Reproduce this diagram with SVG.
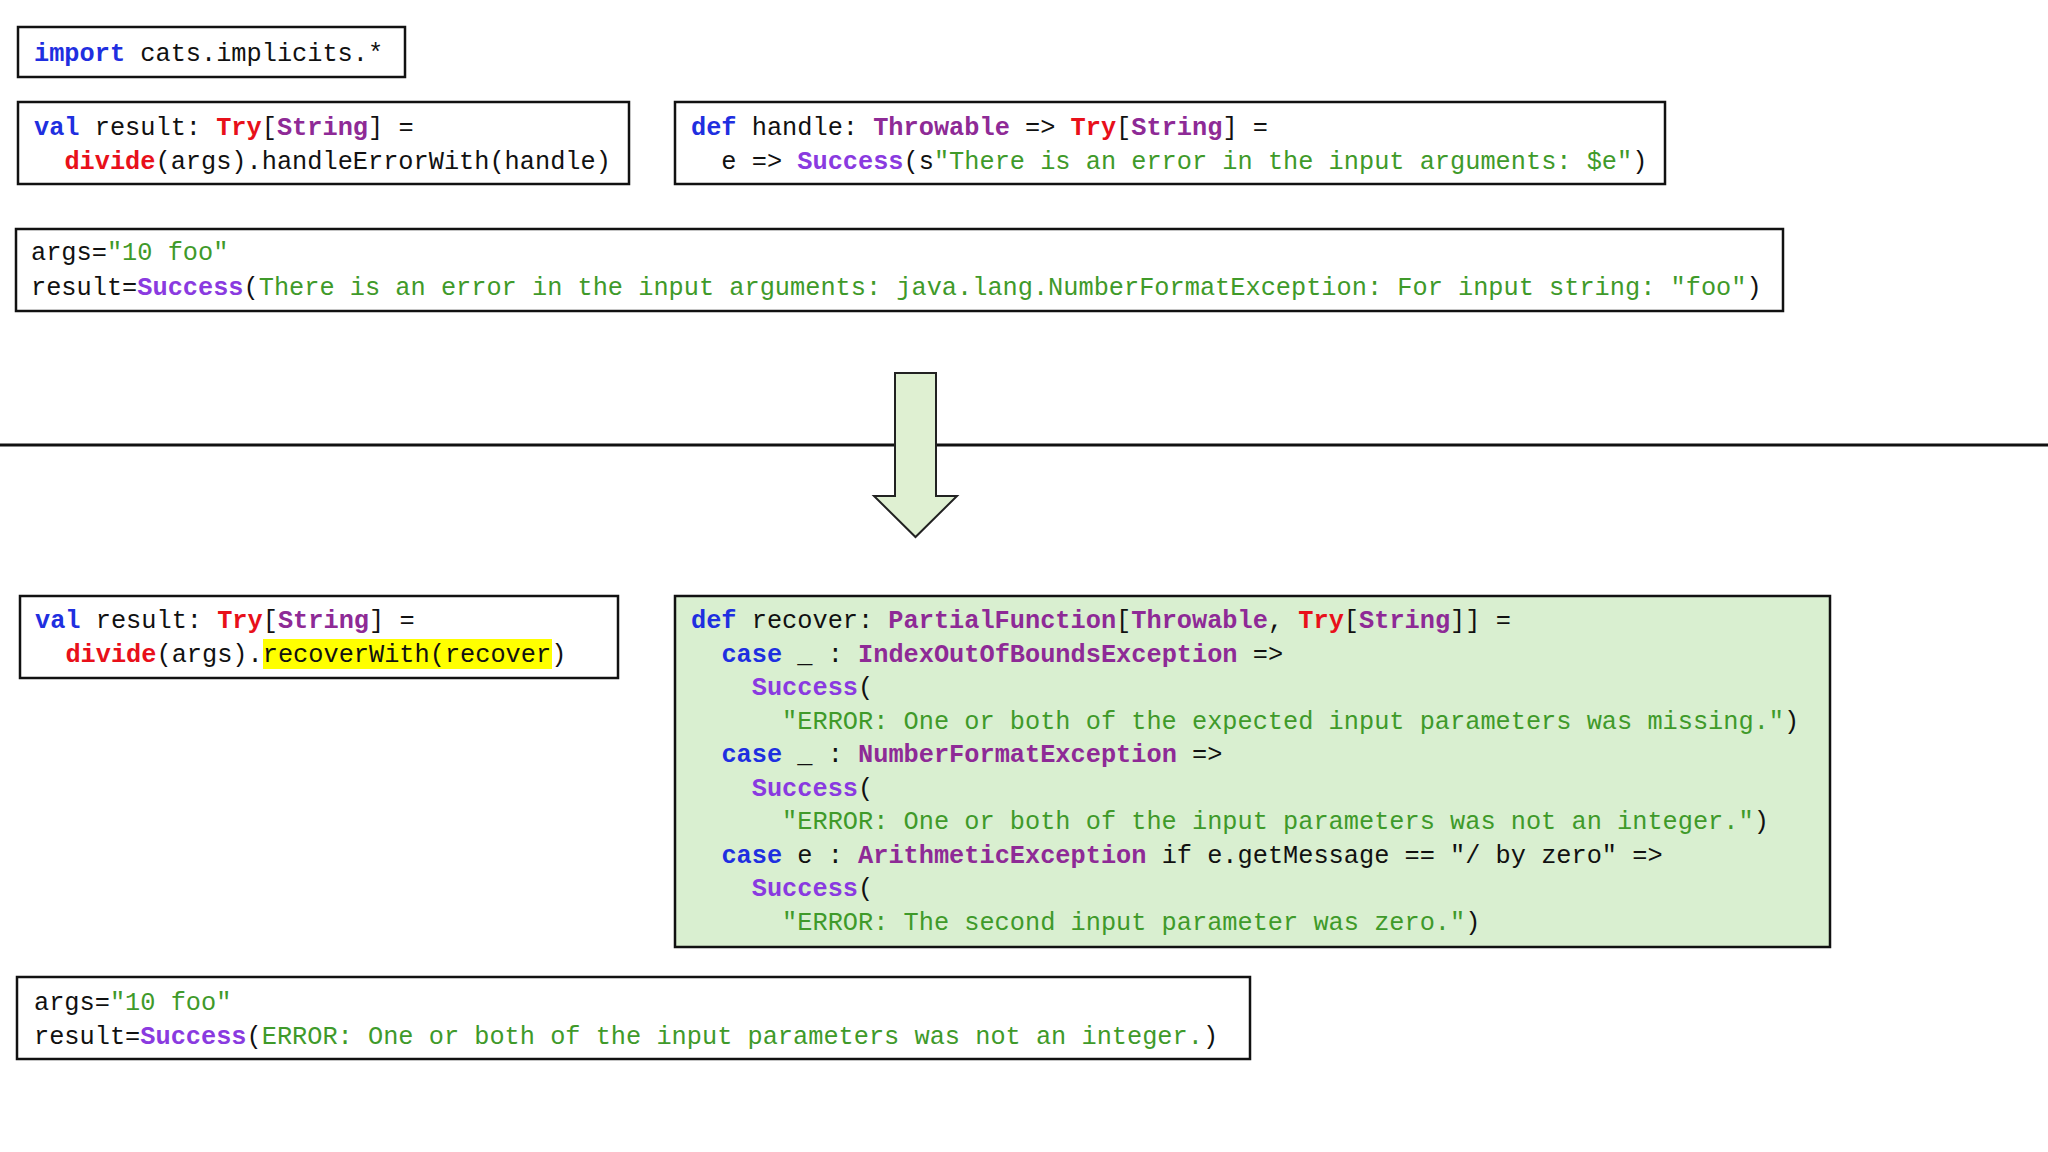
<svg xmlns="http://www.w3.org/2000/svg" width="2048" height="1152" viewBox="0 0 2048 1152">
<style>
text{font-family:"Liberation Mono","DejaVu Sans Mono",monospace;font-size:25.3px;fill:#111;white-space:pre}
.box{fill:#fff;stroke:#111;stroke-width:2.5}
.k{fill:#1f2fe0;font-weight:bold}
.r{fill:#e8101a;font-weight:bold}
.p{fill:#8e2a96;font-weight:bold}
.s{fill:#8a3ae0;font-weight:bold}
.g{fill:#3f9a2a}
</style>
<rect width="2048" height="1152" fill="#fff"/>
<g id="connectors">
<line x1="0" y1="445" x2="2048" y2="445" stroke="#111" stroke-width="3"/>
<path d="M895,373 H936 V496 H957 L915.5,537 L874,496 H895 Z" fill="#dff0d2" stroke="#222" stroke-width="2"/>
</g>
<g id="import"><rect class="box" x="18" y="27" width="387" height="50"/>
<text x="34" y="61" xml:space="preserve"><tspan class="k">import</tspan> cats.implicits.*</text></g>
<g id="result1"><rect class="box" x="18" y="102" width="611" height="82"/>
<text x="34" y="135" xml:space="preserve"><tspan class="k">val</tspan> result: <tspan class="r">Try</tspan>[<tspan class="p">String</tspan>] =</text>
<text x="34" y="168.5" xml:space="preserve">  <tspan class="r">divide</tspan>(args).handleErrorWith(handle)</text></g>
<g id="handle"><rect class="box" x="675" y="102" width="990" height="82"/>
<text x="691" y="135" xml:space="preserve"><tspan class="k">def</tspan> handle: <tspan class="p">Throwable</tspan> =&gt; <tspan class="r">Try</tspan>[<tspan class="p">String</tspan>] =</text>
<text x="691" y="168.5" xml:space="preserve">  e =&gt; <tspan class="s">Success</tspan>(s<tspan class="g">"There is an error in the input arguments: $e"</tspan>)</text></g>
<g id="output1"><rect class="box" x="16" y="229" width="1767" height="82"/>
<text x="31" y="260" xml:space="preserve">args=<tspan class="g">"10 foo"</tspan></text>
<text x="31" y="294.5" xml:space="preserve">result=<tspan class="s">Success</tspan>(<tspan class="g">There is an error in the input arguments: java.lang.NumberFormatException: For input string: "foo"</tspan>)</text></g>
<g id="result2"><rect class="box" x="20" y="596" width="598" height="82"/>
<rect x="263" y="639" width="289" height="30" fill="#ffff00"/>
<text x="35" y="628" xml:space="preserve"><tspan class="k">val</tspan> result: <tspan class="r">Try</tspan>[<tspan class="p">String</tspan>] =</text>
<text x="35" y="662" xml:space="preserve">  <tspan class="r">divide</tspan>(args).recoverWith(recover)</text></g>
<g id="recover"><rect x="675" y="596" width="1155" height="351" fill="#d9efd0" stroke="#111" stroke-width="2.5"/>
<text x="691" y="628" xml:space="preserve"><tspan class="k">def</tspan> recover: <tspan class="p">PartialFunction</tspan>[<tspan class="p">Throwable</tspan>, <tspan class="r">Try</tspan>[<tspan class="p">String</tspan>]] =</text>
<text x="691" y="661.5" xml:space="preserve">  <tspan class="k">case</tspan> _ : <tspan class="p">IndexOutOfBoundsException</tspan> =&gt;</text>
<text x="691" y="695" xml:space="preserve">    <tspan class="s">Success</tspan>(</text>
<text x="691" y="728.5" xml:space="preserve">      <tspan class="g">"ERROR: One or both of the expected input parameters was missing."</tspan>)</text>
<text x="691" y="762" xml:space="preserve">  <tspan class="k">case</tspan> _ : <tspan class="p">NumberFormatException</tspan> =&gt;</text>
<text x="691" y="795.5" xml:space="preserve">    <tspan class="s">Success</tspan>(</text>
<text x="691" y="829" xml:space="preserve">      <tspan class="g">"ERROR: One or both of the input parameters was not an integer."</tspan>)</text>
<text x="691" y="862.5" xml:space="preserve">  <tspan class="k">case</tspan> e : <tspan class="p">ArithmeticException</tspan> if e.getMessage == "/ by zero" =&gt;</text>
<text x="691" y="896" xml:space="preserve">    <tspan class="s">Success</tspan>(</text>
<text x="691" y="929.5" xml:space="preserve">      <tspan class="g">"ERROR: The second input parameter was zero."</tspan>)</text></g>
<g id="output2"><rect class="box" x="17" y="977" width="1233" height="82"/>
<text x="34" y="1010" xml:space="preserve">args=<tspan class="g">"10 foo"</tspan></text>
<text x="34" y="1044" xml:space="preserve">result=<tspan class="s">Success</tspan>(<tspan class="g">ERROR: One or both of the input parameters was not an integer.</tspan>)</text></g>
</svg>
